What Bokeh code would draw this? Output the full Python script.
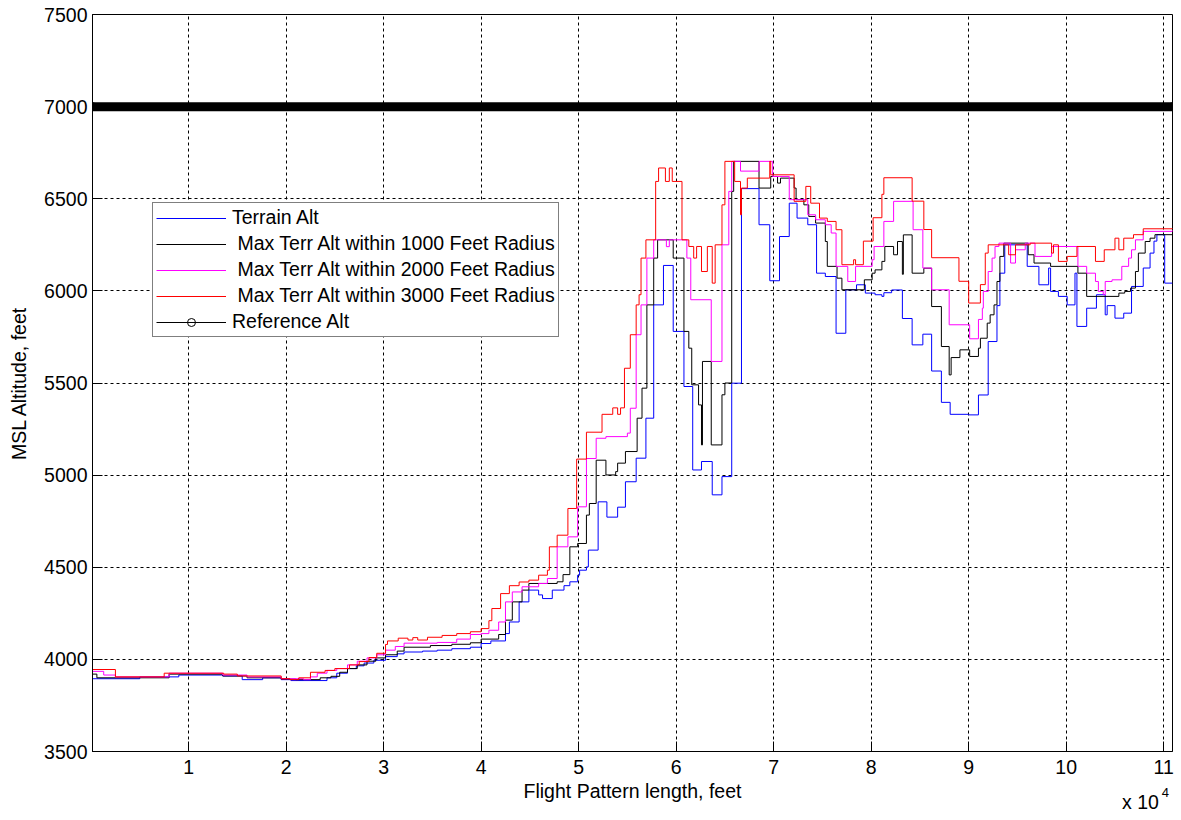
from bokeh.plotting import figure
from bokeh.layouts import column
from bokeh.models import Range1d, FixedTicker, Legend, LegendItem, Div
from bokeh.embed import file_html
from bokeh.resources import INLINE

FONT = "Liberation Sans"

# Distance along the flight pattern (feet) and altitudes (feet MSL).
# Each altitude holds from its distance until the next breakpoint.
X_START = 150
X_END = 110900

terrain_dist = [150, 5000, 9000, 13500, 15500, 17600, 19500, 20500, 24200, 25200,
                26300, 27200, 28000, 29000, 30200, 31400, 32100, 34000, 35500, 37000,
                38900, 40000, 41000, 42500, 42900, 43900, 44900, 45900, 46300, 47300,
                48500, 49100, 49900, 50100, 50800, 51000, 52000, 52900, 54000, 54800,
                55900, 56900, 57700, 58700, 59700, 60800, 61700, 62600, 63700, 64700,
                65700, 66700, 68500, 69600, 70600, 71600, 72400, 73500, 74400, 75300,
                76400, 77400, 78500, 79400, 80400, 81100, 81300, 82100, 83200, 84200,
                85300, 86200, 87200, 88100, 90000, 91000, 92000, 92900, 93200, 93700,
                96000, 97200, 98200, 98400, 99200, 100100, 100900, 101100, 102100, 103100,
                104000, 104200, 105000, 105900, 106700, 107900, 108600, 109000, 109300, 110100,
                110900]
terrain_alt = [3895, 3905, 3915, 3910, 3890, 3900, 3890, 3885, 3900, 3925,
               3950, 3965, 3980, 3995, 4015, 4030, 4040, 4045, 4050, 4058,
               4066, 4086, 4100, 4140, 4203, 4312, 4376, 4350, 4330, 4376,
               4400, 4421, 4457, 4484, 4502, 4593, 4855, 4772, 4826, 4964,
               5092, 5309, 5924, 6138, 5780, 5481, 5028, 5074, 4893, 4992,
               5499, 6555, 6359, 6055, 6295, 6476, 6395, 6359, 6096, 6078,
               5770, 6006, 6033, 5988, 5979, 5970, 5990, 6005, 5850, 5707,
               5765, 5565, 5395, 5330, 5327, 5435, 5725, 5920, 6096, 6250,
               6133, 6033, 6124, 5997, 5970, 5924, 6096, 5807, 5906, 5979,
               5870, 5920, 5852, 5879, 6024, 6124, 6205, 6270, 6305, 6042,
               6042]

max1000_dist = [150, 600, 8000, 13500, 16000, 19500, 21000, 23500, 24600, 25500,
                26300, 27300, 28300, 29200, 30200, 31400, 32100, 34800, 37000, 38900,
                40000, 41800, 42500, 43200, 44200, 44900, 47800, 48400, 49100, 49900,
                50800, 51100, 51800, 52800, 53800, 54000, 54800, 56000, 56500, 57000,
                57700, 58100, 59700, 60800, 61300, 61600, 62300, 62600, 62700, 63600,
                64700, 65000, 65700, 65900, 68500, 69700, 70400, 70700, 72100, 72300,
                73100, 73600, 74300, 75300, 75500, 76500, 77000, 79300, 80100, 80400,
                81100, 81400, 82300, 82700, 83200, 83300, 84200, 85400, 86200, 87200,
                88000, 88200, 89100, 90100, 91000, 91200, 91900, 92200, 92600, 92900,
                93200, 93600, 96100, 96700, 98400, 101200, 102100, 105400, 106000, 106600,
                107100, 107400, 108100, 108600, 109100, 110900]
max1000_alt = [3920, 3900, 3920, 3910, 3900, 3893, 3890, 3900, 3908, 3930,
               3950, 3970, 3990, 4008, 4025, 4045, 4066, 4075, 4082, 4090,
               4110, 4135, 4213, 4312, 4376, 4412, 4421, 4460, 4611, 4629,
               4783, 4846, 5081, 5001, 5019, 5065, 5128, 5309, 5472, 5924,
               6178, 6277, 6178, 5780, 5689, 5490, 5381, 5164, 5617, 5164,
               5436, 5500, 6540, 6703, 6558, 6621, 6585, 6612, 6558, 6495,
               6467, 6404, 6368, 6268, 6133, 6069, 6006, 6060, 6096, 6114,
               6160, 6241, 6196, 6268, 6090, 6304, 6096, 6123, 5915, 5698,
               5544, 5638, 5680, 5644, 5689, 5743, 5825, 5870, 5924, 6051,
               6187, 6259, 6196, 6151, 6133, 6096, 5970, 5988, 5997, 6015,
               6105, 6205, 6268, 6286, 6305, 6305]

max2000_dist = [150, 1300, 2500, 8000, 13500, 16000, 19500, 21800, 22500, 23200,
                24200, 25200, 26300, 27300, 28300, 29300, 30200, 31200, 32100, 35500,
                37500, 38900, 40000, 40800, 41800, 42500, 43200, 44200, 45900, 46800,
                47800, 48900, 49900, 50800, 51800, 52800, 55000, 55300, 55900, 56400,
                57000, 57700, 59000, 59300, 61100, 61500, 63600, 64700, 65400, 65700,
                66600, 68500, 69900, 71600, 73500, 74300, 75300, 75900, 76400, 77600,
                78400, 80100, 80300, 81300, 82300, 84300, 85300, 86200, 88000, 90100,
                91000, 91400, 91500, 92000, 92400, 92700, 93100, 94300, 94800, 95800,
                96800, 98500, 101200, 102100, 103000, 103300, 103800, 104000, 104700, 105700,
                106400, 106700, 107100, 107900, 110900]
max2000_alt = [3935, 3915, 3905, 3925, 3915, 3905, 3895, 3890, 3905, 3925,
               3940, 3950, 3970, 3990, 4008, 4025, 4050, 4070, 4088, 4092,
               4110, 4135, 4140, 4158, 4203, 4312, 4366, 4394, 4412, 4439,
               4611, 4665, 4828, 5090, 5200, 5209, 5228, 5363, 5762, 5924,
               6178, 6277, 6240, 6277, 6178, 5952, 5617, 6250, 6540, 6703,
               6650, 6703, 6621, 6495, 6413, 6386, 6359, 6314, 6133, 6051,
               6133, 6169, 6241, 6377, 6486, 6332, 6124, 6006, 5816, 5740,
               5845, 5906, 5997, 6105, 6178, 6241, 6259, 6151, 6223, 6259,
               6187, 6241, 6133, 6096, 6051, 5997, 5979, 6051, 6060, 6133,
               6178, 6223, 6277, 6323, 6330]

max3000_dist = [150, 2500, 7500, 13600, 15000, 19500, 20400, 21300, 22500, 24000,
                25000, 26500, 27500, 28500, 29300, 30200, 30400, 31500, 32500, 33000,
                33500, 34500, 36000, 37500, 38900, 40000, 40800, 41100, 42000, 42900,
                43900, 44900, 45900, 46800, 47000, 47800, 48900, 49800, 50800, 52400,
                53500, 54000, 54300, 54700, 55300, 55900, 56200, 56400, 56900, 57900,
                58200, 58900, 59300, 59600, 60600, 61300, 61800, 62100, 62600, 63200,
                63700, 64000, 64700, 65000, 66000, 66600, 66700, 67300, 69600, 69700,
                72100, 73300, 73800, 74700, 75500, 76400, 77000, 78200, 78400, 79200,
                80200, 81100, 81300, 84200, 85400, 86200, 89000, 90000, 91200, 91700,
                92000, 94100, 94800, 96300, 98500, 98700, 99200, 100100, 101100, 103000,
                103900, 105000, 105400, 105900, 106900, 107900, 110900]
max3000_alt = [3945, 3905, 3925, 3920, 3910, 3895, 3890, 3900, 3930, 3940,
               3950, 3970, 3988, 4010, 4033, 4081, 4100, 4115, 4105, 4118,
               4105, 4120, 4130, 4140, 4150, 4167, 4210, 4276, 4357, 4400,
               4420, 4430, 4457, 4484, 4611, 4674, 4819, 5087, 5233, 5330,
               5365, 5330, 5365, 5580, 5762, 5924, 5979, 6178, 6277, 6594,
               6667, 6594, 6667, 6594, 6277, 6241, 6178, 6241, 6105, 6241,
               6042, 6250, 6467, 6703, 6594, 6413, 6558, 6612, 6703, 6630,
               6486, 6567, 6476, 6395, 6377, 6332, 6142, 6169, 6142, 6270,
               6397, 6524, 6614, 6487, 6333, 6180, 6052, 5934, 6034, 6205,
               6250, 6196, 6250, 6259, 6205, 6250, 6160, 6187, 6241, 6160,
               6223, 6286, 6223, 6286, 6305, 6337, 6340]

REF_ALT = 7000

x_ticks = [10000 * k for k in range(1, 12)]
x_tick_labels = [str(k) for k in range(1, 12)]
y_ticks = [3500, 4000, 4500, 5000, 5500, 6000, 6500, 7000, 7500]

series = [
    ("Terrain Alt", terrain_dist, terrain_alt, "#0000ff"),
    ("\u00a0Max Terr Alt within 1000 Feet Radius", max1000_dist, max1000_alt, "#000000"),
    ("\u00a0Max Terr Alt within 2000 Feet Radius", max2000_dist, max2000_alt, "#ff00ff"),
    ("\u00a0Max Terr Alt within 3000 Feet Radius", max3000_dist, max3000_alt, "#ff0000"),
]

fig = figure(width=1181, height=820, output_backend="svg", toolbar_location=None,
             x_range=Range1d(X_START, X_END), y_range=Range1d(3500, 7500),
             min_border_left=92, min_border_right=9, min_border_top=14,
             min_border_bottom=69, background_fill_color="white",
             border_fill_color="white")
fig.outline_line_color = "black"
fig.outline_line_width = 1

TICK_FS = "19.5px"
fig.xaxis.ticker = FixedTicker(ticks=x_ticks)
fig.xaxis.major_label_overrides = dict(zip(x_ticks, x_tick_labels))
fig.yaxis.ticker = FixedTicker(ticks=y_ticks)
for ax in (fig.xaxis[0], fig.yaxis[0]):
    ax.axis_line_color = "black"
    ax.major_tick_in = 10
    ax.major_tick_out = 0
    ax.minor_tick_line_color = None
    ax.major_tick_line_color = "black"
    ax.major_label_text_font = FONT
    ax.major_label_text_font_size = TICK_FS
    ax.major_label_text_color = "black"
    ax.axis_label_text_font = FONT
    ax.axis_label_text_font_size = TICK_FS
    ax.axis_label_text_font_style = "normal"
    ax.axis_label_text_color = "black"
fig.xaxis.axis_label = "Flight Pattern length, feet"
fig.yaxis.axis_label = "MSL Altitude, feet"
fig.xaxis.major_label_standoff = 8
fig.xaxis.axis_label_standoff = 3
fig.yaxis.major_label_standoff = 5
fig.yaxis.axis_label_standoff = 11

for g in (fig.xgrid[0], fig.ygrid[0]):
    g.grid_line_color = "black"
    g.grid_line_dash = "3 3"
    g.grid_line_width = 1
fig.xgrid.ticker = FixedTicker(ticks=x_ticks)
fig.ygrid.ticker = FixedTicker(ticks=y_ticks)

items = []
for label, dist, alt, color in series:
    fig.step(dist, alt, mode="after", line_color=color, line_width=1)
    # hidden plain line used as this series' legend key
    key = fig.line(dist, alt, line_color=color, line_width=1, visible=False)
    items.append(LegendItem(label=label, renderers=[key]))

ref_dist = [X_START, X_END]
ref_alt = [REF_ALT, REF_ALT]
r_ref_line = fig.line(ref_dist, ref_alt, line_color="black", line_width=1)
r_ref_mark = fig.scatter(ref_dist, ref_alt, marker="circle", size=8, fill_color=None,
                         line_color="black", line_width=1)
# densely sampled circle markers merge into a solid band
fig.line(ref_dist, ref_alt, line_color="black", line_width=9, line_cap="round")
items.append(LegendItem(label="Reference Alt", renderers=[r_ref_line, r_ref_mark]))

legend = Legend(items=items, location=(60, 414))
legend.border_line_color = "black"
legend.border_line_width = 1
legend.background_fill_color = "white"
legend.background_fill_alpha = 1
legend.label_text_font = FONT
legend.label_text_font_size = TICK_FS
legend.label_text_color = "black"
legend.glyph_width = 70
legend.glyph_height = 20
legend.label_height = 20
legend.spacing = 3
legend.padding = 3
legend.label_standoff = 6
legend.margin = 0
fig.add_layout(legend)

# x-axis scale multiplier shown at the lower right corner
multiplier = Div(
    text=('<span style="font-family:\'Liberation Sans\'; font-size:19.5px; '
          'line-height:22px; color:black; white-space:nowrap">x 10'
          '<sup style="font-size:13px; vertical-align:12px; line-height:0; '
          'margin-left:3px">4</sup></span>'),
    styles={"position": "absolute", "left": "1122px", "top": "791px",
            "margin": "0", "padding": "0"})

p = column(fig, multiplier)
open("out.html", "w").write(file_html(p, INLINE))
